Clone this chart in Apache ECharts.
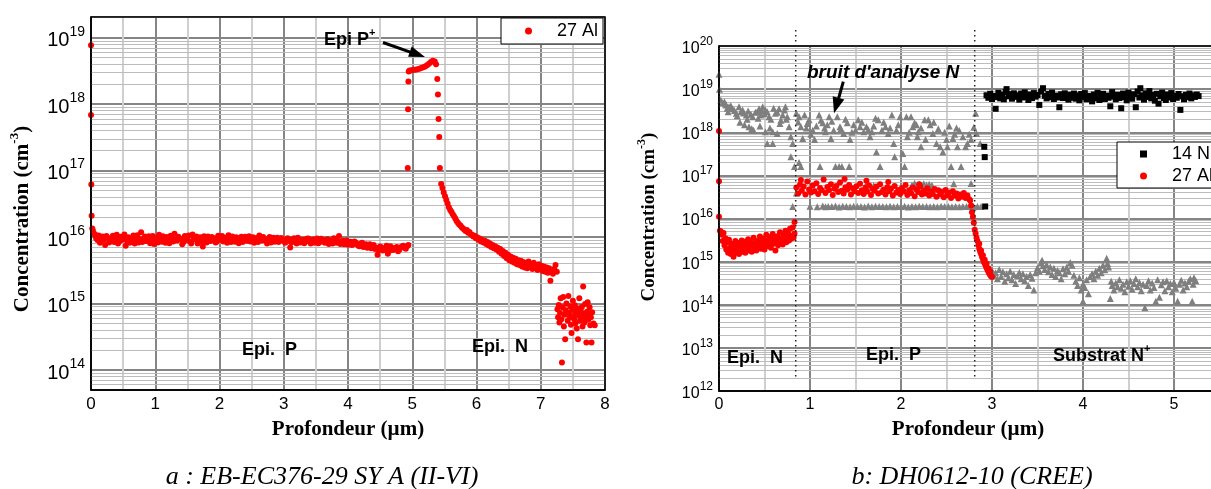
<!DOCTYPE html>
<html><head><meta charset="utf-8">
<script src="https://cdn.jsdelivr.net/npm/echarts@6/dist/echarts.min.js"></script>
<style>html,body{margin:0;padding:0;background:#fff}#c{width:1211px;height:489px}</style>
</head><body><div id="c"></div>
<script>
// Depth in µm, concentration in units of 1e15 cm^-3
// Panel a : 27 Al
const al27A = [
[0,7700],[0,690],[0.005,62],[0.01,21],[0.02,13.5],[0.03,12.5],[0.045,11.2],
[0.06,11.0],[0.10,9.0],[0.14,8.2],[0.18,10.2],[0.22,7.6],[0.26,9.8],[0.30,8.6],[0.34,10.5],[0.38,9.2],[0.42,8.0],[0.46,10.1],[0.50,9.4],[0.54,7.4],[0.58,9.9],[0.62,8.8],[0.66,10.6],[0.70,9.0],[0.74,8.3],[0.78,11.8],[0.82,9.5],[0.86,8.7],[0.90,10.3],[0.94,9.1],[0.98,7.9],
[1.02,9.7],[1.06,10.8],[1.10,8.5],[1.14,9.3],[1.18,10.0],[1.22,8.1],[1.26,9.6],[1.30,11.2],[1.34,8.9],[1.38,9.5],[1.42,7.8],[1.46,10.4],[1.50,9.0],[1.54,8.6],[1.58,10.9],[1.62,9.2],[1.66,8.0],[1.70,9.9],[1.74,7.2],[1.78,9.4],[1.82,10.2],[1.86,8.7],[1.90,9.6],[1.94,8.3],[1.98,10.5],
[2.02,9.1],[2.06,8.6],[2.10,9.8],[2.14,10.7],[2.18,8.4],[2.22,9.3],[2.26,9.9],[2.30,8.1],[2.34,10.1],[2.38,9.0],[2.42,8.8],[2.46,10.3],[2.50,9.5],[2.54,8.2],[2.58,9.7],[2.62,10.6],[2.66,8.9],[2.70,9.2],[2.74,8.0],[2.78,10.0],[2.82,9.4],[2.86,8.5],[2.90,9.8],[2.94,8.8],[2.98,9.3],
[3.02,8.2],[3.06,9.6],[3.10,7.0],[3.14,9.0],[3.18,8.6],[3.22,9.8],[3.26,8.3],[3.30,9.1],[3.34,8.7],[3.38,9.5],[3.42,8.0],[3.46,9.2],[3.50,8.8],[3.54,8.1],[3.58,9.4],[3.62,8.5],[3.66,9.0],[3.70,7.9],[3.74,8.9],[3.78,9.6],[3.82,8.2],[3.86,10.4],[3.90,8.4],[3.94,7.8],[3.98,8.9],
[4.02,8.1],[4.06,7.6],[4.10,8.6],[4.14,7.9],[4.18,7.3],[4.22,8.2],[4.26,7.5],[4.30,6.9],[4.34,7.8],[4.38,7.1],[4.42,6.6],[4.46,5.4],[4.50,7.2],[4.54,6.3],[4.58,6.8],[4.62,5.6],[4.66,7.3],[4.70,6.4],[4.74,6.9],[4.78,6.1],[4.82,7.0],[4.86,7.4],[4.90,6.7],[4.94,7.6],
[0.08,9.6],[0.12,10.6],[0.16,8.9],[0.20,9.2],[0.24,10.4],[0.28,8.3],[0.32,9.5],[0.36,8.4],[0.40,10.8],[0.44,8.6],[0.48,9.0],[0.52,10.9],[0.56,8.8],[0.60,8.2],[0.64,9.6],[0.68,8.0],[0.72,10.7],[0.76,9.3],[0.80,8.4],[0.84,10.2],[0.88,9.7],[0.92,8.1],[0.96,10.4],
[1.00,9.0],[1.04,8.3],[1.08,9.4],[1.12,10.3],[1.16,8.2],[1.20,9.1],[1.24,10.5],[1.28,8.6],[1.32,9.0],[1.36,10.1],[1.40,9.3],[1.44,8.4],[1.48,9.8],[1.52,10.6],[1.56,8.0],[1.60,9.4],[1.64,10.2],[1.68,9.1],[1.72,8.5],[1.76,10.3],[1.80,8.3],[1.84,9.2],[1.88,10.0],[1.92,9.5],[1.96,8.6],
[2.00,9.9],[2.04,10.4],[2.08,9.2],[2.12,8.2],[2.16,9.5],[2.20,10.2],[2.24,8.5],[2.28,9.3],[2.32,9.7],[2.36,8.4],[2.40,10.1],[2.44,8.9],[2.48,8.6],[2.52,9.9],[2.56,9.2],[2.60,8.4],[2.64,9.6],[2.68,10.0],[2.72,8.7],[2.76,9.4],[2.80,8.3],[2.84,9.8],[2.88,9.1],[2.92,8.4],[2.96,9.7],
[3.00,8.9],[3.04,8.5],[3.08,9.3],[3.12,8.3],[3.16,9.6],[3.20,8.0],[3.24,9.2],[3.28,8.8],[3.32,8.1],[3.36,9.4],[3.40,8.6],[3.44,8.9],[3.48,8.2],[3.52,9.5],[3.56,8.4],[3.60,9.0],[3.64,8.2],[3.68,9.3],[3.72,8.5],[3.76,8.0],[3.80,9.1],[3.84,8.6],[3.88,7.9],[3.92,8.8],[3.96,8.3],
[4.00,7.7],[4.04,8.5],[4.08,7.8],[4.12,8.3],[4.16,7.4],[4.20,8.0],[4.24,7.1],[4.28,7.8],[4.32,7.3],[4.36,6.8],[4.40,7.6],[4.44,6.9],[4.48,6.4],[4.52,7.0],[4.56,6.5],[4.60,7.4],[4.64,6.2],[4.68,6.9],[4.72,6.6],[4.76,7.1],[4.80,6.5],[4.84,7.2],[4.88,6.9],[4.92,7.3],
[4.93,110],[4.935,840],[4.94,2200],[4.945,3100],
[4.96,3200],[4.99,3250],[5.02,3300],[5.05,3300],[5.08,3350],[5.11,3400],[5.14,3500],[5.17,3600],[5.20,3700],[5.23,3850],[5.26,4050],[5.29,4300],[5.32,4500],[5.35,4400],[5.37,4000],
[5.39,2400],[5.40,1400],[5.41,600],[5.42,320],[5.43,110],
[5.45,63],[5.47,55],[5.49,47],[5.51,41],[5.53,36],[5.55,32],[5.57,28],[5.59,25.5],[5.61,24],[5.63,22],[5.65,20.5],[5.67,19],[5.69,17.5],[5.71,16.5],[5.73,15.5],[5.75,15],[5.77,14],[5.79,13.5],[5.81,13],[5.83,12.4],[5.85,12.8],[5.87,11.6],[5.89,11.9],[5.91,11],[5.93,10.8],[5.95,10.2],[5.97,10.5],[5.99,9.6],
[6.01,9.9],[6.03,9.2],[6.05,9.5],[6.07,8.6],[6.09,9.0],[6.11,8.3],[6.13,8.8],[6.15,7.9],[6.17,8.4],[6.19,7.5],[6.21,8.0],[6.23,7.1],[6.25,7.6],[6.27,6.8],[6.29,7.3],[6.31,6.5],[6.33,6.9],[6.35,6.0],[6.37,6.6],[6.39,5.6],[6.41,6.2],[6.43,5.2],[6.45,5.8],[6.47,4.8],[6.49,5.4],
[6.51,4.5],[6.53,5.1],[6.55,4.3],[6.57,4.9],[6.59,4.1],[6.61,4.7],[6.63,3.9],[6.65,4.5],[6.67,3.8],[6.69,4.4],[6.71,3.6],[6.73,4.2],[6.75,3.5],[6.77,4.0],[6.79,3.4],[6.81,4.3],[6.83,3.6],[6.85,3.9],[6.87,3.3],[6.89,4.1],[6.91,3.5],[6.93,3.8],[6.95,3.2],[6.97,3.9],[6.99,3.3],
[7.01,3.7],[7.03,3.1],[7.05,3.6],[7.07,3.0],[7.09,3.5],[7.11,2.9],[7.13,3.4],[7.15,2.2],[7.17,3.2],[7.19,2.8],[7.21,3.3],[7.23,3.8],[7.25,3.0],
[7.26,0.82],[7.27,0.62],[7.28,0.95],[7.29,0.52],[7.30,0.72],[7.31,1.2],[7.32,0.58],[7.33,0.13],[7.34,0.88],[7.35,1.25],[7.36,0.45],[7.37,0.68],[7.38,0.29],[7.39,0.79],[7.40,1.0],[7.42,0.55],[7.43,1.3],[7.44,0.72],[7.45,0.62],[7.46,0.9],[7.47,0.48],[7.48,0.36],[7.49,0.8],[7.50,1.1],
[7.51,0.65],[7.52,0.58],[7.53,0.94],[7.54,0.5],[7.55,0.74],[7.56,0.42],[7.57,0.85],[7.58,0.29],[7.59,0.66],[7.60,1.2],[7.61,0.55],[7.62,0.78],[7.63,0.6],[7.64,0.89],[7.65,0.45],[7.66,1.8],[7.67,0.7],[7.68,0.52],[7.69,0.98],[7.70,0.62],[7.71,0.26],[7.72,0.75],[7.73,1.05],[7.74,0.57],[7.75,0.68],[7.76,0.88],[7.77,0.47],[7.78,0.62],[7.79,0.26],[7.80,0.74],[7.82,0.5],[7.84,0.47]
];

// Panel b : 27 Al
const al27B = [
[0,1070],[0,73],[0,11],[0.01,5.2],
[0.02,5.0],[0.03,4.2],[0.04,3.0],[0.05,4.6],[0.06,2.4],[0.07,3.5],[0.08,1.9],[0.09,2.8],[0.10,1.6],[0.11,3.2],[0.12,2.1],[0.13,1.5],[0.14,2.6],[0.15,1.8],[0.16,1.3],[0.17,2.3],[0.18,3.0],[0.19,1.6],[0.20,2.0],[0.21,2.7],[0.22,1.5],[0.23,2.4],[0.24,1.9],[0.25,3.1],[0.26,1.7],[0.27,2.2],[0.28,2.9],[0.29,1.6],[0.30,2.5],
[0.31,2.0],[0.32,3.3],[0.33,1.8],[0.34,2.3],[0.35,2.8],[0.36,1.7],[0.37,2.4],[0.38,3.6],[0.39,2.1],[0.40,2.7],[0.41,1.8],[0.42,3.0],[0.43,2.2],[0.44,2.6],[0.45,3.8],[0.46,2.0],[0.47,2.9],[0.48,2.4],[0.49,3.4],[0.50,1.9],[0.51,2.7],[0.52,4.2],[0.53,2.3],[0.54,3.1],[0.55,2.5],[0.56,3.7],[0.57,2.1],[0.58,2.9],[0.59,4.4],[0.60,2.6],
[0.61,3.3],[0.62,1.8],[0.63,2.8],[0.64,3.9],[0.65,2.4],[0.66,3.2],[0.67,4.8],[0.68,2.7],[0.69,3.5],[0.70,2.5],[0.71,4.1],[0.72,3.0],[0.73,5.2],[0.74,2.8],[0.75,3.6],[0.76,4.5],[0.77,3.1],[0.78,5.8],[0.79,3.4],[0.80,4.0],[0.81,6.2],[0.82,3.6],[0.83,8.3],[0.83,4.5],
[0.85,52],[0.87,38],[0.89,61],[0.90,78],[0.91,44],[0.93,55],[0.95,36],[0.97,72],[0.99,47],[1.01,40],[1.03,58],[1.05,43],[1.07,66],[1.09,37],[1.11,51],[1.13,45],[1.15,80],[1.17,39],[1.19,54],[1.21,46],[1.23,62],[1.25,35],[1.27,49],[1.29,57],[1.31,41],[1.33,68],[1.35,44],[1.37,38],[1.38,82],[1.39,53],
[1.41,47],[1.43,60],[1.45,36],[1.47,50],[1.49,43],[1.51,56],[1.53,39],[1.55,64],[1.57,45],[1.59,37],[1.61,52],[1.62,75],[1.63,42],[1.65,58],[1.67,35],[1.69,48],[1.71,44],[1.73,55],[1.75,38],[1.77,62],[1.79,41],[1.81,47],[1.83,36],[1.85,53],[1.86,70],[1.87,43],[1.89,49],[1.91,34],[1.93,57],[1.95,40],[1.97,46],[1.99,37],
[2.01,51],[2.03,42],[2.05,60],[2.07,35],[2.09,45],[2.11,39],[2.13,52],[2.15,33],[2.17,47],[2.19,41],[2.20,62],[2.21,55],[2.23,36],[2.25,44],[2.27,38],[2.29,50],[2.31,34],[2.33,42],[2.35,37],[2.37,48],[2.39,32],[2.41,45],[2.43,36],[2.45,41],[2.47,31],[2.49,46],
[2.51,35],[2.53,40],[2.55,30],[2.57,43],[2.59,34],[2.61,38],[2.63,29],[2.65,36],[2.67,32],[2.69,39],[2.71,30],[2.73,34],[2.75,28],
[2.76,26],[2.77,20],[2.78,14],[2.79,11],[2.80,8],[2.81,5.5],[2.82,4.5],[2.83,3.6],[2.84,3.0],[2.85,2.4],[2.86,2.0],[2.86,2.6],[2.87,1.7],[2.88,1.5],[2.88,1.8],[2.89,1.3],[2.90,1.15],[2.90,1.4],[2.91,1.0],[2.92,0.9],[2.92,1.1],[2.93,0.8],[2.94,0.72],[2.94,0.9],[2.95,0.65],[2.96,0.58],[2.96,0.7],[2.97,0.53],[2.98,0.49],[2.98,0.6],[2.99,0.46],[3.00,0.44]
];

// Panel b : 14 N (main profile)
const n14B = [
[2.915,460],[2.92,265],[2.925,19],
[2.94,7200],[2.96,6300],[2.98,7800],[3.00,5900],[3.02,7000],[3.04,3500],[3.05,6500],[3.07,8200],[3.09,6100],[3.11,7400],[3.13,5800],[3.15,8600],[3.16,10000],[3.18,6800],[3.20,7600],[3.22,6000],[3.24,8000],[3.26,6600],[3.28,7200],[3.30,5700],[3.32,7900],[3.34,6400],[3.36,8400],[3.38,6900],[3.40,5600],[3.42,7500],[3.44,6200],[3.46,8100],[3.48,6700],[3.50,7300],
[3.52,4300],[3.54,8800],[3.56,10500],[3.58,7000],[3.60,6100],[3.62,7800],[3.64,6500],[3.66,8300],[3.68,5900],[3.70,7100],[3.72,6400],[3.74,3800],[3.76,7600],[3.78,6200],[3.80,8000],[3.82,6800],[3.84,5700],[3.86,7400],[3.88,6300],[3.90,7900],[3.92,6000],[3.94,7200],[3.96,5500],[3.98,7700],
[4.00,6600],[4.02,8100],[4.04,5800],[4.06,7000],[4.08,6400],[4.10,5200],[4.12,7500],[4.14,6100],[4.16,8200],[4.18,5600],[4.20,6900],[4.22,7800],[4.24,5900],[4.26,7100],[4.28,6300],[4.30,4000],[4.32,8500],[4.34,6700],[4.36,5800],[4.38,7400],[4.40,6200],[4.42,3600],[4.44,7900],[4.46,6500],[4.48,5500],[4.50,8300],
[4.52,6900],[4.54,6000],[4.56,7600],[4.58,3800],[4.60,8800],[4.62,6400],[4.63,10500],[4.65,7200],[4.67,5700],[4.69,8000],[4.71,6600],[4.73,9000],[4.75,6100],[4.77,7300],[4.79,5400],[4.81,7800],[4.83,4600],[4.85,6800],[4.87,8300],[4.89,6200],[4.91,5600],[4.93,7500],[4.95,6400],[4.97,8100],[4.99,5900],
[5.01,7000],[5.03,6300],[5.05,7700],[5.07,3300],[5.09,6800],[5.11,5800],[5.13,7400],[5.15,6500],[5.17,7900],[5.19,6100],[5.21,7200],[5.23,6600],[5.25,7500],[5.27,6900]
];

// Panel b : analysis noise on N (grey triangles)
const nNoiseB = [
[0,22000],[0.005,10000],[0.02,5600],[0.04,4800],[0.06,5100],[0.07,4500],[0.08,4300],[0.09,3600],[0.10,3000],[0.11,3900],[0.13,4100],[0.15,3500],[0.17,3200],[0.19,2750],[0.20,2400],[0.22,3900],[0.23,1700],[0.24,3000],[0.26,3300],[0.27,2800],[0.28,1500],[0.30,2500],[0.31,2000],[0.32,3100],[0.33,1350],[0.35,2600],[0.36,1200],[0.37,2300],[0.38,1120],[0.40,2900],
[0.42,3000],[0.43,2100],[0.44,3500],[0.45,1400],[0.46,2500],[0.47,3200],[0.48,3900],[0.50,2700],[0.51,3300],[0.51,1030],[0.53,550],[0.53,3000],[0.55,2300],[0.56,1250],[0.57,2000],[0.59,550],[0.59,1030],[0.60,3600],[0.62,2750],[0.64,940],[0.64,2900],[0.66,3500],[0.67,1600],[0.68,1900],[0.70,2500],[0.72,3300],[0.73,3900],[0.74,2000],[0.75,2300],[0.77,1350],[0.79,790],[0.79,270],[0.81,550],[0.81,19],[0.83,160],[0.85,2750],[0.85,39],[0.87,1740],
[0.88,2300],[0.88,200],[0.90,1350],[0.90,160],[0.92,720],[0.94,2500],[0.96,1250],[0.97,1600],[0.99,1950],[1.01,900],[1.03,1120],[1.05,680],[1.07,1400],[1.10,2500],[1.11,160],[1.12,1900],[1.14,1650],[1.16,1250],[1.17,1030],[1.19,1500],[1.21,2300],[1.23,720],[1.24,1800],[1.26,1120],[1.28,160],[1.30,2300],[1.32,160],[1.33,1350],[1.34,1200],[1.35,160],[1.37,940],[1.39,2000],[1.41,1650],[1.43,160],[1.44,680],[1.46,1000],[1.48,1500],
[1.50,1120],[1.53,1950],[1.55,1350],[1.57,1700],[1.59,1030],[1.62,1350],[1.64,1150],[1.66,790],[1.68,1030],[1.70,1400],[1.72,2100],[1.73,350],[1.75,1950],[1.77,160],[1.79,1120],[1.81,1700],[1.83,1350],[1.86,940],[1.88,1250],[1.90,2500],[1.92,550],[1.93,270],[1.95,1120],[1.97,1500],[1.99,2300],
[2.02,320],[2.04,160],[2.06,2300],[2.07,790],[2.09,1000],[2.11,2300],[2.13,1350],[2.15,1650],[2.17,1500],[2.18,790],[2.19,1030],[2.22,1250],[2.22,460],[2.26,1950],[2.27,680],[2.30,1950],[2.32,1500],[2.35,940],[2.36,1700],[2.39,550],[2.41,1200],[2.43,460],[2.46,350],[2.48,1000],[2.50,680],[2.51,460],[2.53,1400],[2.55,160],[2.57,720],[2.59,900],[2.61,1250],[2.62,460],[2.64,1100],[2.66,160],[2.68,790],[2.71,460],[2.73,550],[2.75,900],[2.77,680],[2.80,1300],[2.82,2750],[2.83,940],[2.87,550],
[1.62,62],[1.70,58],[2.12,60],[2.15,66],[2.18,59],[2.20,63],[2.23,58],[2.25,64],[2.28,60],[2.31,62],[2.34,59],[2.58,64],[2.77,65],
[1.00,19.2],[1.08,18.8],[1.14,19.5],[1.17,18.7],[1.20,19.1],[1.24,18.9],[1.28,19.4],[1.32,18.6],[1.36,19.2],[1.40,19.0],[1.44,18.7],[1.48,19.3],[1.52,18.9],[1.56,19.1],[1.60,18.6],[1.64,19.4],[1.68,18.8],[1.72,19.2],[1.76,18.9],[1.80,19.0],[1.84,18.7],[1.88,19.3],[1.92,18.8],[1.96,19.1],[2.00,18.9],[2.04,19.2],[2.08,18.6],[2.12,19.0],[2.16,18.8],[2.20,19.3],[2.24,18.9],[2.28,19.1],[2.32,18.7],[2.36,19.0],[2.40,18.8],[2.44,19.2],[2.48,18.9],[2.52,19.0],[2.56,18.7],[2.60,19.1],[2.64,18.8],[2.68,19.0],[2.72,18.9],[2.76,19.1],[2.80,18.8],[2.84,19.0],[2.88,18.9],
[3.00,0.62],[3.02,0.48],[3.04,0.55],[3.06,0.40],[3.08,0.66],[3.10,0.45],[3.12,0.58],[3.14,0.35],[3.16,0.52],[3.18,0.42],[3.20,0.60],[3.22,0.38],[3.24,0.50],[3.26,0.31],[3.28,0.47],[3.30,0.56],[3.32,0.40],[3.34,0.52],[3.36,0.36],[3.38,0.45],[3.40,0.28],[3.42,0.50],[3.44,0.41],[3.46,0.22],[3.48,0.55],
[3.50,0.72],[3.52,0.60],[3.54,0.95],[3.55,1.07],[3.56,0.80],[3.58,0.66],[3.60,0.85],[3.62,0.58],[3.64,0.75],[3.66,0.50],[3.68,0.70],[3.70,0.45],[3.72,0.62],[3.74,0.55],[3.76,0.40],[3.78,0.68],[3.80,0.52],[3.82,0.74],[3.84,0.60],[3.86,0.95],[3.88,0.82],[3.90,0.48],[3.92,0.35],[3.94,0.28],[3.96,0.42],[3.98,0.22],
[4.00,0.12],[4.00,0.30],[4.02,0.25],[4.04,0.38],[4.06,0.18],[4.08,0.45],[4.10,0.52],[4.12,0.40],[4.14,0.60],[4.16,0.48],[4.18,0.70],[4.20,0.55],[4.22,0.82],[4.24,0.65],[4.26,1.2],[4.27,0.9],[4.28,0.75],[4.30,0.14],[4.31,0.35],[4.32,0.28],[4.34,0.22],[4.36,0.32],[4.38,0.26],[4.40,0.38],[4.42,0.24],[4.44,0.30],[4.46,0.20],[4.48,0.34],
[4.50,0.27],[4.52,0.36],[4.54,0.23],[4.56,0.31],[4.58,0.40],[4.60,0.26],[4.62,0.33],[4.64,0.21],[4.66,0.30],[4.68,0.085],[4.70,0.28],[4.72,0.36],[4.74,0.22],[4.76,0.32],[4.78,0.25],[4.80,0.12],[4.82,0.38],[4.84,0.15],[4.86,0.29],[4.88,0.34],[4.90,0.21],[4.92,0.36],[4.94,0.26],[4.96,0.31],[4.98,0.20],
[5.00,0.33],[5.02,0.24],[5.04,0.12],[5.06,0.30],[5.08,0.37],[5.10,0.22],[5.12,0.32],[5.14,0.26],[5.16,0.35],[5.18,0.40],[5.20,0.12],[5.21,0.30],[5.22,0.42],[5.24,0.36]
];

// Layer boundaries in panel b (µm)
const boundariesB = [0.843, 2.81];

const UNIT = 1e15;
const toData = arr => arr.map(p => [p[0], p[1] * UNIT]);

function minorLines(lo, hi) {
  const out = [];
  for (let k = Math.floor(Math.log10(lo)); k <= Math.ceil(Math.log10(hi)); k++) {
    for (let m = 2; m <= 9; m++) {
      const v = m * Math.pow(10, k);
      if (v > lo && v < hi) out.push({ yAxis: v });
    }
  }
  return out;
}

const sans = 'Liberation Sans, Arial, sans-serif';
const serif = 'Liberation Serif, Times New Roman, serif';
const MAJOR = '#858585', MINOR = '#bcbcbc';

function xAxisCfg(grid, max, fs) {
  return {
    type: 'value', gridIndex: grid, min: 0, max: max, interval: 1, z: 0,
    axisLine: { show: true, onZero: false, lineStyle: { color: '#000', width: 1.5 } },
    axisTick: { show: false },
    axisLabel: { color: '#000', fontFamily: sans, fontSize: fs, margin: 6, hideOverlap: false },
    splitLine: { show: true, lineStyle: { color: MAJOR, width: 2 } },
    minorTick: { show: false, splitNumber: 2 },
    minorSplitLine: { show: true, lineStyle: { color: '#cfcfcf', width: 2 } }
  };
}
function yAxisCfg(grid, min, max, fb, fs, lhb, hideEnds) {
  return {
    type: 'log', logBase: 10, gridIndex: grid, min: min, max: max, z: 0,
    axisLine: { show: true, onZero: false, lineStyle: { color: '#000', width: 1.5 } },
    axisTick: { show: false },
    axisLabel: {
      margin: 6, showMinLabel: !hideEnds, showMaxLabel: !hideEnds, hideOverlap: false,
      formatter: v => '{b|10}{s|' + Math.round(Math.log10(v)) + '}',
      rich: {
        b: { fontFamily: sans, fontSize: fb, color: '#000', lineHeight: lhb, verticalAlign: 'bottom' },
        s: { fontFamily: sans, fontSize: fs, color: '#000', lineHeight: fs, verticalAlign: 'top' }
      }
    },
    splitLine: { show: true, lineStyle: { color: MAJOR, width: 2 } }
  };
}
function minorSeries(xi, yi, lo, hi) {
  return {
    type: 'line', xAxisIndex: xi, yAxisIndex: yi, data: [], z: 1, silent: true,
    markLine: { z: 1, silent: true, animation: false, symbol: ['none', 'none'], label: { show: false },
      lineStyle: { color: MINOR, width: 1, type: 'solid' }, emphasis: { disabled: true },
      data: minorLines(lo, hi) }
  };
}

const chart = echarts.init(document.getElementById('c'), null, { renderer: 'canvas' });

const supText = (main, sup, size, supSize, extra) => ({
  text: '{t|' + main + '}{s|' + sup + '}',
  rich: {
    t: Object.assign({ fontSize: size, lineHeight: size + 4, verticalAlign: 'bottom', fill: '#000' }, extra),
    s: Object.assign({ fontSize: supSize, lineHeight: supSize, verticalAlign: 'top', fill: '#000' }, extra)
  }
});

const legendBase = {
  orient: 'vertical', itemWidth: 7, itemHeight: 7, itemGap: 4, selectedMode: false, z: 40,
  borderColor: '#000', borderWidth: 1, backgroundColor: '#fff', borderRadius: 0
};

const option = {
  animation: false,
  backgroundColor: '#fff',
  grid: [
    { left: 91, top: 17, width: 514, height: 373, outerBoundsMode: 'none', containLabel: false },
    { left: 719, top: 46, width: 546, height: 345, outerBoundsMode: 'none', containLabel: false }
  ],
  xAxis: [ xAxisCfg(0, 8, 17), xAxisCfg(1, 6, 16) ],
  yAxis: [ yAxisCfg(0, 5e13, 2.05e19, 20, 14, 26, true), yAxisCfg(1, 1e12, 1e20, 16, 12, 21, false) ],
  legend: [
    Object.assign({}, legendBase, { data: ['27 Al'], left: 501, top: 18, padding: [4, 5, 4, 24],
      textStyle: { fontFamily: sans, fontSize: 18, color: '#000', padding: [0, 0, 0, 20] } }),
    Object.assign({}, legendBase, { data: ['14 N', '27 Al'], left: 1117, top: 142, padding: [3, 30, 3, 23],
      textStyle: { fontFamily: sans, fontSize: 18, color: '#000', padding: [0, 0, 0, 20] } })
  ],
  series: [
    minorSeries(0, 0, 5e13, 2.05e19),
    minorSeries(1, 1, 1e12, 1e20),
    { name: '27 Al', type: 'scatter', xAxisIndex: 0, yAxisIndex: 0, data: toData(al27A),
      symbol: 'circle', symbolSize: 6, itemStyle: { color: '#ff0000', opacity: 1 }, z: 10 },
    { name: 'bruit N', type: 'scatter', xAxisIndex: 1, yAxisIndex: 1, data: toData(nNoiseB),
      symbol: 'triangle', symbolSize: 7, itemStyle: { color: '#7f7f7f', opacity: 1 }, z: 10 },
    { name: '27 Al', type: 'scatter', xAxisIndex: 1, yAxisIndex: 1, data: toData(al27B),
      symbol: 'circle', symbolSize: 6, itemStyle: { color: '#ff0000', opacity: 1 }, z: 11 },
    { name: '14 N', type: 'scatter', xAxisIndex: 1, yAxisIndex: 1, data: toData(n14B),
      symbol: 'rect', symbolSize: 6, itemStyle: { color: '#000000', opacity: 1 }, z: 12 }
  ]
};
chart.setOption(option);

const bold = { fontFamily: sans, fontWeight: 'bold' };
const titleRich = (size, supSize) => ({
  t: { fontFamily: serif, fontWeight: 'bold', fontSize: size, lineHeight: size + 4, verticalAlign: 'bottom', fill: '#000' },
  s: { fontFamily: serif, fontWeight: 'bold', fontSize: supSize, lineHeight: supSize, verticalAlign: 'top', fill: '#000' }
});

const graphics = [
  // plot frames
  { type: 'rect', silent: true, z: 30, shape: { x: 91, y: 17, width: 514, height: 373 }, style: { fill: 'none', stroke: '#000', lineWidth: 1.5 } },
  { type: 'rect', silent: true, z: 30, shape: { x: 719, y: 46, width: 546, height: 345 }, style: { fill: 'none', stroke: '#000', lineWidth: 1.5 } },
  // axis titles
  { type: 'text', silent: true, z: 60, x: 21, y: 219, rotation: Math.PI / 2,
    style: { text: '{t|Concentration (cm}{s|-3}{t|)}', rich: titleRich(21, 13), align: 'center', verticalAlign: 'middle' } },
  { type: 'text', silent: true, z: 60, x: 647, y: 217, rotation: Math.PI / 2,
    style: { text: '{t|Concentration (cm}{s|-3}{t|)}', rich: titleRich(19, 12), align: 'center', verticalAlign: 'middle' } },
  { type: 'text', silent: true, z: 60, x: 348, y: 430,
    style: { text: 'Profondeur (µm)', fontFamily: serif, fontWeight: 'bold', fontSize: 21, fill: '#000', align: 'center', verticalAlign: 'middle' } },
  { type: 'text', silent: true, z: 60, x: 968, y: 430,
    style: { text: 'Profondeur (µm)', fontFamily: serif, fontWeight: 'bold', fontSize: 21, fill: '#000', align: 'center', verticalAlign: 'middle' } },
  // captions
  { type: 'text', silent: true, z: 60, x: 322, y: 477,
    style: { text: 'a : EB-EC376-29 SY A (II-VI)', fontFamily: serif, fontStyle: 'italic', fontSize: 26, fill: '#000', align: 'center', verticalAlign: 'middle' } },
  { type: 'text', silent: true, z: 60, x: 972, y: 477,
    style: { text: 'b: DH0612-10 (CREE)', fontFamily: serif, fontStyle: 'italic', fontSize: 26, fill: '#000', align: 'center', verticalAlign: 'middle' } },
  // annotations panel a
  { type: 'text', silent: true, z: 60, x: 324, y: 38,
    style: Object.assign(supText('Epi P', '+', 18, 11, bold), { align: 'left', verticalAlign: 'middle' }) },
  { type: 'line', silent: true, z: 60, shape: { x1: 383, y1: 42.5, x2: 411, y2: 52.3 }, style: { stroke: '#000', lineWidth: 3 } },
  { type: 'polygon', silent: true, z: 60, shape: { points: [[425, 57], [411.7, 46.4], [408.1, 56.8]] }, style: { fill: '#000' } },
  { type: 'text', silent: true, z: 60, x: 242, y: 350,
    style: { text: 'Epi.  P', fontFamily: sans, fontWeight: 'bold', fontSize: 18, fill: '#000', align: 'left', verticalAlign: 'middle' } },
  { type: 'text', silent: true, z: 60, x: 472, y: 347,
    style: { text: 'Epi.  N', fontFamily: sans, fontWeight: 'bold', fontSize: 18, fill: '#000', align: 'left', verticalAlign: 'middle' } },
  // annotations panel b
  { type: 'text', silent: true, z: 60, x: 807, y: 73,
    style: { text: "bruit d'analyse N", fontFamily: sans, fontWeight: 'bold', fontStyle: 'italic', fontSize: 19, fill: '#000', align: 'left', verticalAlign: 'middle' } },
  { type: 'line', silent: true, z: 60, shape: { x1: 843.3, y1: 81.7, x2: 838.6, y2: 98.5 }, style: { stroke: '#000', lineWidth: 3 } },
  { type: 'polygon', silent: true, z: 60, shape: { points: [[834, 113.3], [832.7, 96.2], [844.3, 99.6]] }, style: { fill: '#000' } },
  { type: 'text', silent: true, z: 60, x: 727, y: 358,
    style: { text: 'Epi.  N', fontFamily: sans, fontWeight: 'bold', fontSize: 18, fill: '#000', align: 'left', verticalAlign: 'middle' } },
  { type: 'text', silent: true, z: 60, x: 866, y: 355,
    style: { text: 'Epi.  P', fontFamily: sans, fontWeight: 'bold', fontSize: 18, fill: '#000', align: 'left', verticalAlign: 'middle' } },
  { type: 'text', silent: true, z: 60, x: 1053, y: 354,
    style: Object.assign(supText('Substrat N', '+', 18, 11, bold), { align: 'left', verticalAlign: 'middle' }) }
];

// dotted layer boundaries, positioned through the x axis of panel b
boundariesB.forEach(d => {
  const px = chart.convertToPixel({ xAxisIndex: 1 }, d);
  graphics.push({ type: 'line', silent: true, z: 55, shape: { x1: px, y1: 30, x2: px, y2: 378 },
    style: { stroke: '#222', lineWidth: 1.5, lineDash: [1.5, 3.5] } });
});

chart.setOption({ graphic: graphics });
</script>
</body></html>
